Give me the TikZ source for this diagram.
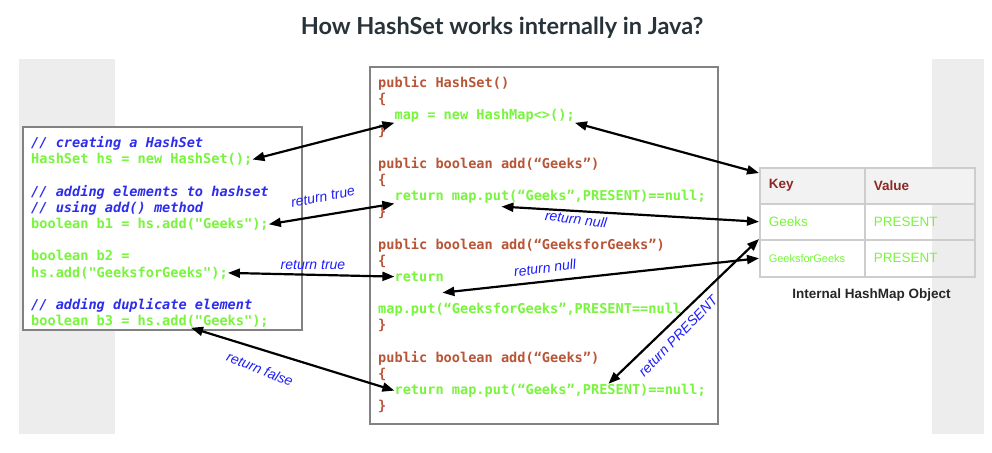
\documentclass[tikz,border=0pt]{standalone}
\usepackage{fontspec}
\setmainfont{Liberation Sans}
\newfontfamily\codefont{DejaVu Sans Mono}
\newfontfamily\titlefont{Lato}
\usetikzlibrary{arrows.meta}
\definecolor{codegreen}{RGB}{120,245,60}
\definecolor{codebrown}{RGB}{185,85,55}
\definecolor{cmtblue}{RGB}{45,45,235}
\definecolor{lblblue}{RGB}{30,30,250}
\definecolor{bandgray}{RGB}{237,237,237}
\definecolor{keyred}{RGB}{140,40,40}
\definecolor{titlecol}{RGB}{39,50,57}
\definecolor{boxgray}{RGB}{130,130,130}
\definecolor{gridgray}{RGB}{205,205,205}
\definecolor{headfill}{RGB}{242,242,242}
\tikzset{
  codeline/.style={anchor=base west, inner sep=0pt, font=\codefont\bfseries\fontsize{13.6}{16}\selectfont},
  greenline/.style={codeline, text=codegreen},
  brownline/.style={codeline, text=codebrown},
  cmtline/.style={codeline, text=cmtblue, font=\codefont\bfseries\itshape\fontsize{13.6}{16}\selectfont},
  lbl/.style={inner sep=0pt, text=lblblue, font=\itshape\fontsize{14}{14}\selectfont},
  codebox/.style={draw=boxgray, line width=1.5pt, fill=white, anchor=north west, inner sep=0pt},
  link/.style={draw=black, line width=2.2pt, {Triangle[length=12pt,width=9pt]}-{Triangle[length=12pt,width=9pt]}},
  cell/.style={draw=gridgray, line width=1.5pt, anchor=north west, minimum height=36pt, inner xsep=9pt, align=left, font=\fontsize{13.5}{14}\selectfont},
  kcell/.style={cell, minimum width=105pt, text width=87pt},
  vcell/.style={cell, minimum width=110pt, text width=92pt},
}
\begin{document}
\begin{tikzpicture}[x=1pt,y=-1pt]
\useasboundingbox (0,0) rectangle (992,452);
% background bands
\fill[bandgray] (19,59) rectangle (115,434);
\fill[bandgray] (932,59) rectangle (984,434);
% title
\node (title) [text=titlecol, font=\titlefont\bfseries\fontsize{23.5}{26}\selectfont] at (502,28) {How HashSet works internally in Java?};
% boxes
\node (leftbox) [codebox, minimum width=279pt, minimum height=203pt] at (22,126) {};
\node (midbox) [codebox, minimum width=348pt, minimum height=357pt] at (369,66) {};
% left code
\node (L0) [cmtline] at (31,147.5) {// creating a HashSet};
\node (L1) [greenline] at (31,163.7) {HashSet hs = new HashSet();};
\node (L3) [cmtline] at (31,196.1) {// adding elements to hashset};
\node (L4) [cmtline] at (31,212.3) {// using add() method};
\node (L5) [greenline] at (31,228.5) {boolean b1 = hs.add("Geeks");};
\node (L7) [greenline] at (31,260.9) {boolean b2 =};
\node (L8) [greenline] at (31,277.1) {hs.add("GeeksforGeeks");};
\node (L10) [cmtline] at (31,309.5) {// adding duplicate element};
\node (L11) [greenline] at (31,325.7) {boolean b3 = hs.add("Geeks");};
% middle code
\node (C0) [brownline] at (378,87.5) {public HashSet()};
\node (C1) [brownline] at (378,103.65) {\{};
\node (C2) [greenline] at (394.4,119.8) {map = new HashMap<>();};
\node (C3) [brownline] at (378,135.95) {\}};
\node (C5) [brownline] at (378,168.25) {public boolean add(“Geeks”)};
\node (C6) [brownline] at (378,184.4) {\{};
\node (C7) [greenline] at (394.4,200.55) {return map.put(“Geeks”,PRESENT)==null;};
\node (C8) [brownline] at (378,216.7) {\}};
\node (C10) [brownline] at (378,249) {public boolean add(“GeeksforGeeks”)};
\node (C11) [brownline] at (378,265.15) {\{};
\node (C12) [greenline] at (394.4,281.3) {return};
\node (C14) [greenline] at (378,313.6) {map.put(“GeeksforGeeks”,PRESENT==null};
\node (C15) [brownline] at (378,329.75) {\}};
\node (C17) [brownline] at (378,362.05) {public boolean add(“Geeks”)};
\node (C18) [brownline] at (378,378.2) {\{};
\node (C19) [greenline] at (394.4,394.35) {return map.put(“Geeks”,PRESENT)==null;};
\node (C20) [brownline] at (378,410.5) {\}};
% table
\node (keyh) [kcell, fill=headfill, text=keyred, font=\bfseries\fontsize{13.5}{14}\selectfont] at (759,167) {Key};
\node (valh) [vcell, fill=headfill, text=keyred, font=\bfseries\fontsize{13.5}{14}\selectfont] at (864,167) {Value};
\node (k1) [kcell, text=codegreen] at (759,203) {Geeks};
\node (v1) [vcell, text=codegreen] at (864,203) {PRESENT};
\node (k2) [kcell, text=codegreen, minimum height=37pt, font=\fontsize{11}{12}\selectfont] at (759,239) {GeeksforGeeks};
\node (v2) [vcell, text=codegreen, minimum height=37pt] at (864,239) {PRESENT};
\node (cap) [text=black!85, font=\bfseries\fontsize{13.5}{14}\selectfont] at (871.5,295) {Internal HashMap Object};
% connectors
\draw[link] (L1.east) -- (C2.south west);
\draw[link] (C2.south east) -- ([yshift=-6pt]keyh.north west);
\draw[link] (L5.east) -- (C7.south west);
\draw[link] ([xshift=107pt,yshift=-3pt]C7.south west) -- (k1.west);
\draw[link] (L8.east) -- (C12.west);
\draw[link] ([xshift=48pt,yshift=-11pt]C12.south west) -- (k2.west);
\draw[link] ([xshift=214pt]C19.north west) -- (k2.north west);
\draw[link] ([xshift=160pt]L11.south west) -- (C19.west);
% labels
\node (t1) [lbl, rotate=11] at (323,197) {return true};
\node (t2) [lbl] at (313,265) {return true};
\node (n1) [lbl, rotate=-7] at (576,219) {return null};
\node (n2) [lbl, rotate=7] at (545,268) {return null};
\node (p1) [lbl, rotate=46] at (678,336) {return PRESENT};
\node (f1) [lbl, rotate=-22] at (260,369) {return false};
\end{tikzpicture}
\end{document}
